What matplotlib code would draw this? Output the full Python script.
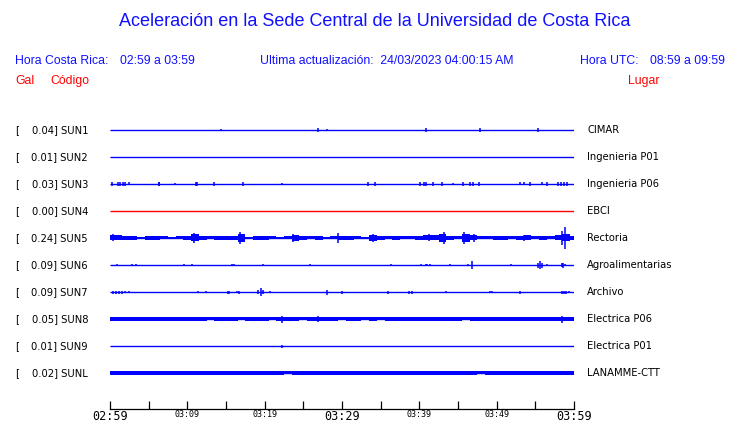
import matplotlib.pyplot as plt
import matplotlib.transforms as mtransforms
import numpy as np

# station table
codes = ['SUN1', 'SUN2', 'SUN3', 'SUN4', 'SUN5', 'SUN6', 'SUN7', 'SUN8', 'SUN9', 'SUNL']
peak_gal = [0.04, 0.01, 0.03, 0.00, 0.24, 0.09, 0.09, 0.05, 0.01, 0.02]
places = ['CIMAR', 'Ingenieria P01', 'Ingenieria P06', 'EBCI', 'Rectoria',
          'Agroalimentarias', 'Archivo', 'Electrica P06', 'Electrica P01', 'LANAMME-CTT']
trace_colors = ['blue', 'blue', 'blue', 'red', 'blue', 'blue', 'blue', 'blue', 'blue', 'blue']

# time axis: minutes after 02:59
tick_minutes = [0, 5, 10, 15, 20, 25, 30, 35, 40, 45, 50, 55, 60]
label_minutes = [0, 10, 20, 30, 40, 50, 60]
tick_labels = ['02:59', '03:09', '03:19', '03:29', '03:39', '03:49', '03:59']

# noise envelope, one value per minute (amplitude in 1/27 of trace spacing)
env_minutes = np.arange(61)
sun5_env = [2.5, 2.5, 2, 2, 1, 2, 2, 1.5, 1, 1.5, 2, 3.5, 2, 1.5, 2, 2, 2, 4, 1, 2,
            2, 1.5, 1, 1.5, 3, 2, 1.5, 2, 1, 1.5, 2, 2, 1.5, 1, 3, 2, 1.5, 2, 1.5, 1.5,
            2, 2.5, 2.5, 4, 2, 1.5, 4, 2.5, 1.5, 1.5, 2, 2, 1.5, 2, 2.5, 1.5, 2, 1.5, 2.5, 3.5, 2]
sun8_env = [1.8, 1.8, 1.8, 1.8, 1.8, 1.8, 1.8, 1.8, 1.8, 1.8, 1.8, 1.8, 1.8, 1.5, 1.8, 1.6, 1.8, 1.5, 1.8, 1.6,
            1.8, 1.5, 1.8, 1.6, 1.8, 1.5, 1.8, 1.8, 1.6, 1.8, 1.5, 1.6, 1.8, 1.5, 1.8, 1.5, 1.8, 1.6, 1.8, 1.8,
            1.6, 1.8, 1.8, 1.6, 1.8, 1.8, 1.5, 1.8, 1.8, 1.6, 1.8, 1.8, 1.8, 1.6, 1.8, 1.8, 1.8, 1.8, 2.0, 2.0, 2.0]
sunl_env = [1.7, 1.7, 1.7, 1.7, 1.7, 1.7, 1.7, 1.7, 1.7, 1.7, 1.7, 1.7, 1.7, 1.7, 1.7, 1.7, 1.7, 1.7, 1.7, 1.7,
            1.7, 1.7, 1.7, 1.5, 1.7, 1.7, 1.7, 1.7, 1.7, 1.7, 1.7, 1.7, 1.7, 1.7, 1.7, 1.7, 1.7, 1.7, 1.7, 1.7,
            1.7, 1.7, 1.7, 1.7, 1.7, 1.7, 1.7, 1.7, 1.5, 1.7, 1.7, 1.7, 1.7, 1.7, 1.7, 1.7, 1.7, 1.7, 1.7, 1.7, 1.7]

# isolated bursts: (minute, amplitude)
sun1_spikes = [(14.3, 1), (26.9, 2), (28.1, 1), (40.8, 2), (47.8, 2), (55.4, 2)]
sun2_spikes = []
sun3_spikes = [(0.3, 2), (1.0, 2), (1.3, 2), (1.7, 2), (2.0, 2), (2.4, 1.5), (6.3, 2), (6.4, 2), (8.4, 1),
               (11.1, 2), (11.2, 2), (13.5, 2), (17.2, 2), (22.3, 1), (33.4, 2), (34.3, 2),
               (40.1, 2), (40.6, 2), (40.9, 2), (41.8, 2), (42.9, 2), (44.3, 1), (45.7, 2),
               (46.6, 2), (46.9, 2), (47.7, 2), (53.0, 1.5), (53.5, 1.5), (54.3, 2), (55.9, 1.5),
               (56.5, 2), (57.9, 2), (58.3, 2), (58.7, 2), (59.1, 2)]
sun4_spikes = []
sun5_spikes = [(0.4, 3.5), (10.9, 5), (16.8, 6), (23.7, 4), (29.5, 5), (34.0, 4), (41.3, 3.5),
               (43.2, 6), (45.8, 6), (47.1, 4), (53.5, 3), (58.5, 7), (58.8, 11)]
sun6_spikes = [(0.9, 1), (2.9, 1.5), (3.3, 1.5), (9.6, 1), (10.6, 1), (15.8, 1.5), (16.0, 1.5),
               (19.8, 1.5), (25.8, 1.5), (36.3, 1), (40.2, 1.5), (40.8, 1.5), (41.0, 1.5), (41.4, 1),
               (44.0, 1.5), (46.3, 1.5), (46.8, 4), (51.9, 1.5), (55.3, 2.5), (55.6, 3.5), (55.8, 2.5),
               (56.5, 1.5), (58.4, 2), (58.6, 2.5), (58.8, 1.5)]
sun7_spikes = [(0.4, 1.5), (0.8, 1.5), (1.2, 1.5), (1.5, 1.5), (1.9, 1), (2.4, 1), (11.4, 1), (12.4, 1),
               (15.2, 1.5), (15.4, 1.5), (16.4, 1), (16.7, 1.5), (19.2, 2), (19.5, 4), (19.8, 2),
               (20.7, 1), (28.1, 2.5), (30.0, 1.5), (36.0, 1.5), (38.7, 1.5), (39.1, 1.5), (43.4, 1),
               (49.2, 1), (49.4, 1), (53.0, 1.5), (58.4, 1.5), (58.7, 1.5), (59.0, 1.5), (59.3, 1)]
sun8_spikes = [(22.3, 3.5), (26.9, 3), (40.1, 2), (58.4, 3.5)]
sun9_spikes = [(22.3, 1.5)]
sunl_spikes = []

spikes = [sun1_spikes, sun2_spikes, sun3_spikes, sun4_spikes, sun5_spikes,
          sun6_spikes, sun7_spikes, sun8_spikes, sun9_spikes, sunl_spikes]
bands = {4: sun5_env, 7: sun8_env, 9: sunl_env}

W, H = 740, 423
fig = plt.figure(figsize=(W / 100, H / 100), dpi=100)

# trace axes: station i sits at pixel row 130 + 27 * i
ax = fig.add_axes([110 / W, 14 / H, 464 / W, 293 / H])
ax.set_xlim(0, 60)
ax.set_ylim((409 - 130) / 27, (116 - 130) / 27)
gain = 1 / 27

for i, code in enumerate(codes):
    c = trace_colors[i]
    ax.hlines(i, 0, 60, color=c, lw=1.0)
    if i in bands:
        env = np.array(bands[i]) * gain
        ax.fill_between(env_minutes, i - env, i + env, step='mid', color=c, lw=0)
    if spikes[i]:
        t = [s[0] for s in spikes[i]]
        a = np.array([s[1] for s in spikes[i]]) * gain
        ax.vlines(t, i - a, i + a, color=c, lw=1.1)

for s in ['top', 'left', 'right']:
    ax.spines[s].set_visible(False)
ax.spines['bottom'].set_linewidth(0.9)
ax.set_yticks([])
ax.set_xticks(tick_minutes)
ax.set_xticklabels([tick_labels[label_minutes.index(m)] if m in label_minutes else '' for m in tick_minutes],
                   family='DejaVu Sans Mono')
ax.tick_params(axis='x', direction='in', length=6, width=0.9, pad=1, labelsize=6)
for lab, m in zip(ax.get_xticklabels(), tick_minutes):
    if m in (0, 30, 60):
        lab.set_fontsize(8.5)

# station labels on both sides
tr = mtransforms.blended_transform_factory(fig.transFigure, ax.transData)
for i, code in enumerate(codes):
    ax.text(15 / W, i, '[', transform=tr, fontsize=7.2, va='center', ha='left', family='DejaVu Sans')
    ax.text(88 / W, i, f'{peak_gal[i]:.2f}] {code}', transform=tr, fontsize=7.2, va='center',
            ha='right', family='DejaVu Sans')
    ax.text(587 / W, i, places[i], transform=tr, fontsize=7.2, va='center', ha='left',
            family='DejaVu Sans')

# header
blue = '#1010ff'
hf = 'Liberation Sans'
fig.text(375 / W, 1 - 22 / H, 'Aceleración en la Sede Central de la Universidad de Costa Rica',
         ha='center', va='center', color=blue, fontsize=13, family=hf)
fig.text(15 / W, 1 - 61 / H, 'Hora Costa Rica:', color=blue, fontsize=8.8, family=hf, va='center')
fig.text(120 / W, 1 - 61 / H, '02:59 a 03:59', color=blue, fontsize=8.8, family=hf, va='center')
fig.text(260 / W, 1 - 61 / H, 'Ultima actualización:  24/03/2023 04:00:15 AM', color=blue,
         fontsize=8.8, family=hf, va='center')
fig.text(580 / W, 1 - 61 / H, 'Hora UTC:', color=blue, fontsize=8.8, family=hf, va='center')
fig.text(650 / W, 1 - 61 / H, '08:59 a 09:59', color=blue, fontsize=8.8, family=hf, va='center')
fig.text(15 / W, 1 - 81 / H, 'Gal', color='red', fontsize=8.8, family=hf, va='center')
fig.text(50 / W, 1 - 81 / H, 'Código', color='red', fontsize=8.8, family=hf, va='center')
fig.text(628 / W, 1 - 81 / H, 'Lugar', color='red', fontsize=8.8, family=hf, va='center')

fig.savefig('out.png', dpi=100)
